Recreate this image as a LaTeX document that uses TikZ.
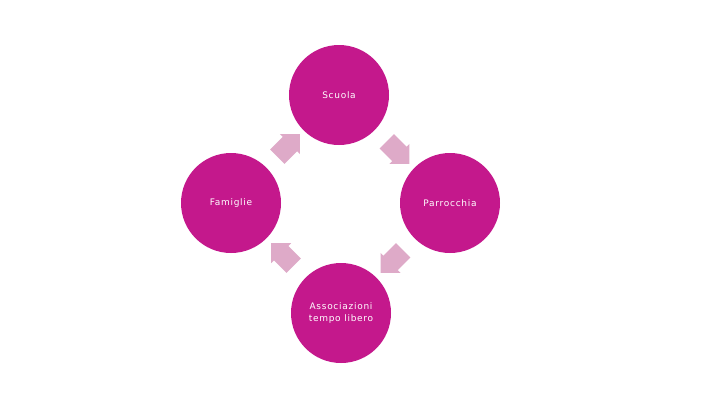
\documentclass[tikz,border=0pt]{standalone}
\usepackage{fontspec}
\setmainfont{DejaVu Sans}[LetterSpace=8]
\usepackage{xcolor}
\usetikzlibrary{shapes,arrows,positioning,calc}
\definecolor{circlemag}{RGB}{196,24,140}
\definecolor{arrowpink}{RGB}{222,170,200}
\tikzset{
  cyclenode/.style={circle, fill=circlemag, minimum size=100pt, inner sep=0pt, align=center, text=white, font=\fontsize{9}{11.5}\selectfont},
  cyclearrow/.style={single arrow, fill=arrowpink, minimum height=32pt, inner xsep=0pt, inner ysep=10pt, single arrow head extend=4pt, single arrow head indent=0pt}
}

\begin{document}
\begin{tikzpicture}[x=1pt,y=-1pt]
    \useasboundingbox (0,0) rectangle (720,405);
    
    % Circles
    \node[cyclenode] (scuola) at (339,95) {Scuola};
    \node[cyclenode] (famiglie) at (231,203) {Famiglie};
    \node[cyclenode] (parrocchia) at (450,203) {Parrocchia};
    \node[cyclenode] (assoc) at (341,313) {Associazioni\\tempo libero};
    
    % Arrows (clockwise)
    \node[cyclearrow, rotate=45] (arrA) at ($(famiglie)!0.5!(scuola)$) {};
    \node[cyclearrow, rotate=-45] (arrB) at ($(scuola)!0.5!(parrocchia)$) {};
    \node[cyclearrow, rotate=-135] (arrC) at ($(parrocchia)!0.5!(assoc)$) {};
    \node[cyclearrow, rotate=135] (arrD) at ($(assoc)!0.5!(famiglie)$) {};
\end{tikzpicture}
\end{document}
